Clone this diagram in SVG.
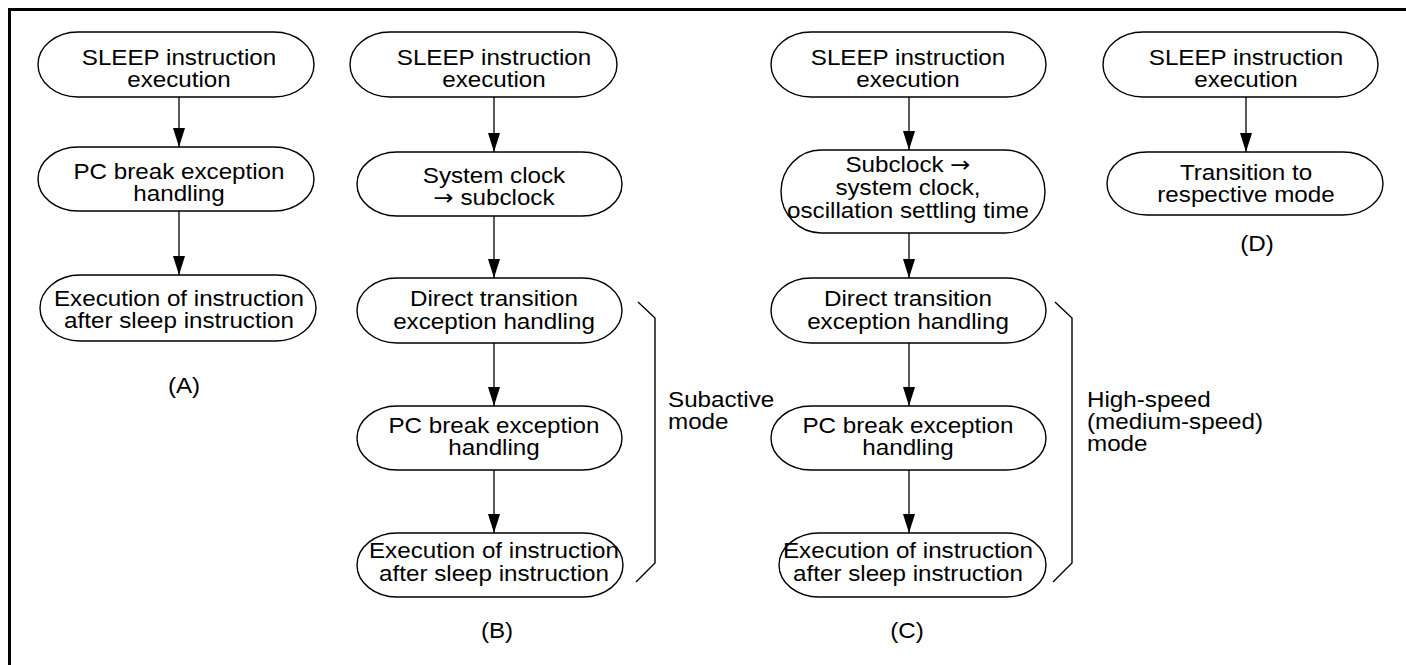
<svg xmlns="http://www.w3.org/2000/svg" width="1406" height="665" viewBox="0 0 1406 665">
<style>
.n{fill:#fff;stroke:#000;stroke-width:1.4}
.t{font-family:"Liberation Sans",Arial,sans-serif;font-size:22px;fill:#000}
.c{text-anchor:middle}
.ar{font-family:"DejaVu Sans",sans-serif;font-size:22px}
.e{stroke:#000;stroke-width:1.3;fill:none}
.b{stroke:#000;stroke-width:1.4;fill:none}
</style>
<defs>
<marker id="ah" markerUnits="userSpaceOnUse" markerWidth="20" markerHeight="13" refX="19" refY="6" orient="auto">
<path d="M0,0 L19,6 L0,12 z" fill="#000"/>
</marker>
</defs>
<rect width="1406" height="665" fill="#fff"/>
<path d="M9.5,665 V9.5 H1406" stroke="#000" stroke-width="3" fill="none"/>

<g id="connectors">
<line class="e" x1="179" y1="97" x2="179" y2="147" marker-end="url(#ah)"/>
<line class="e" x1="179" y1="211" x2="179" y2="275" marker-end="url(#ah)"/>
<line class="e" x1="494" y1="97" x2="494" y2="152" marker-end="url(#ah)"/>
<line class="e" x1="494" y1="216" x2="494" y2="278" marker-end="url(#ah)"/>
<line class="e" x1="494" y1="343" x2="494" y2="406" marker-end="url(#ah)"/>
<line class="e" x1="494" y1="470" x2="494" y2="533" marker-end="url(#ah)"/>
<line class="e" x1="909" y1="97" x2="909" y2="150" marker-end="url(#ah)"/>
<line class="e" x1="909" y1="233" x2="909" y2="278" marker-end="url(#ah)"/>
<line class="e" x1="909" y1="343" x2="909" y2="406" marker-end="url(#ah)"/>
<line class="e" x1="909" y1="470" x2="909" y2="533" marker-end="url(#ah)"/>
<line class="e" x1="1246" y1="97" x2="1246" y2="152" marker-end="url(#ah)"/>
</g>

<g id="A1"><rect class="n" x="38" y="32" width="276" height="65" rx="40" ry="32.5"/>
<text class="t c" transform="translate(179,0) scale(1.1,1)"><tspan x="0" y="65">SLEEP instruction</tspan><tspan x="0" y="87">execution</tspan></text></g>
<g id="A2"><rect class="n" x="38" y="147" width="276" height="64" rx="40" ry="32"/>
<text class="t c" transform="translate(179,0) scale(1.1,1)"><tspan x="0" y="179">PC break exception</tspan><tspan x="0" y="201">handling</tspan></text></g>
<g id="A3"><rect class="n" x="40" y="275" width="276" height="66" rx="40" ry="33"/>
<text class="t c" transform="translate(179,0) scale(1.1,1)"><tspan x="0" y="306">Execution of instruction</tspan><tspan x="0" y="328">after sleep instruction</tspan></text></g>
<g id="labelA"><text class="t c" transform="translate(184,0) scale(1.1,1)" y="393">(A)</text></g>

<g id="B1"><rect class="n" x="350" y="32" width="267" height="65" rx="40" ry="32.5"/>
<text class="t c" transform="translate(494,0) scale(1.1,1)"><tspan x="0" y="65">SLEEP instruction</tspan><tspan x="0" y="87">execution</tspan></text></g>
<g id="B2"><rect class="n" x="357" y="152" width="265" height="64" rx="40" ry="32"/>
<text class="t c" transform="translate(494,0) scale(1.1,1)"><tspan x="0" y="183">System clock</tspan><tspan x="0" y="205"><tspan class="ar">→</tspan> subclock</tspan></text></g>
<g id="B3"><rect class="n" x="357" y="278" width="265" height="65" rx="40" ry="32.5"/>
<text class="t c" transform="translate(494,0) scale(1.1,1)"><tspan x="0" y="306">Direct transition</tspan><tspan x="0" y="329">exception handling</tspan></text></g>
<g id="B4"><rect class="n" x="357" y="406" width="265" height="64" rx="40" ry="32"/>
<text class="t c" transform="translate(494,0) scale(1.1,1)"><tspan x="0" y="433">PC break exception</tspan><tspan x="0" y="455">handling</tspan></text></g>
<g id="B5"><rect class="n" x="357" y="533" width="266" height="64" rx="40" ry="32"/>
<text class="t c" transform="translate(494,0) scale(1.1,1)"><tspan x="0" y="558">Execution of instruction</tspan><tspan x="0" y="581">after sleep instruction</tspan></text></g>
<g id="bracketB"><path class="b" d="M638,302 L655,318 V563 L636,582"/>
<text class="t" transform="translate(668,0) scale(1.1,1)"><tspan x="0" y="407">Subactive</tspan><tspan x="0" y="429">mode</tspan></text></g>
<g id="labelB"><text class="t c" transform="translate(497,0) scale(1.1,1)" y="638">(B)</text></g>

<g id="C1"><rect class="n" x="771" y="32" width="275" height="65" rx="40" ry="32.5"/>
<text class="t c" transform="translate(908,0) scale(1.1,1)"><tspan x="0" y="65">SLEEP instruction</tspan><tspan x="0" y="87">execution</tspan></text></g>
<g id="C2"><rect class="n" x="781" y="150" width="264" height="83" rx="40" ry="41.5"/>
<text class="t c" transform="translate(908,0) scale(1.1,1)"><tspan x="0" y="172">Subclock <tspan class="ar">→</tspan></tspan><tspan x="0" y="195">system clock,</tspan><tspan x="0" y="218">oscillation settling time</tspan></text></g>
<g id="C3"><rect class="n" x="771" y="278" width="275" height="65" rx="40" ry="32.5"/>
<text class="t c" transform="translate(908,0) scale(1.1,1)"><tspan x="0" y="306">Direct transition</tspan><tspan x="0" y="329">exception handling</tspan></text></g>
<g id="C4"><rect class="n" x="771" y="406" width="275" height="64" rx="40" ry="32"/>
<text class="t c" transform="translate(908,0) scale(1.1,1)"><tspan x="0" y="433">PC break exception</tspan><tspan x="0" y="455">handling</tspan></text></g>
<g id="C5"><rect class="n" x="779" y="533" width="267" height="64" rx="40" ry="32"/>
<text class="t c" transform="translate(908,0) scale(1.1,1)"><tspan x="0" y="558">Execution of instruction</tspan><tspan x="0" y="581">after sleep instruction</tspan></text></g>
<g id="bracketC"><path class="b" d="M1055,302 L1072,318 V563 L1053,582"/>
<text class="t" transform="translate(1087,0) scale(1.1,1)"><tspan x="0" y="407">High-speed</tspan><tspan x="0" y="429">(medium-speed)</tspan><tspan x="0" y="451">mode</tspan></text></g>
<g id="labelC"><text class="t c" transform="translate(907,0) scale(1.1,1)" y="638">(C)</text></g>

<g id="D1"><rect class="n" x="1103" y="32" width="275" height="65" rx="40" ry="32.5"/>
<text class="t c" transform="translate(1246,0) scale(1.1,1)"><tspan x="0" y="65">SLEEP instruction</tspan><tspan x="0" y="87">execution</tspan></text></g>
<g id="D2"><rect class="n" x="1107" y="152" width="276" height="63" rx="40" ry="31.5"/>
<text class="t c" transform="translate(1246,0) scale(1.1,1)"><tspan x="0" y="180">Transition to</tspan><tspan x="0" y="202">respective mode</tspan></text></g>
<g id="labelD"><text class="t c" transform="translate(1257,0) scale(1.1,1)" y="251">(D)</text></g>
</svg>
